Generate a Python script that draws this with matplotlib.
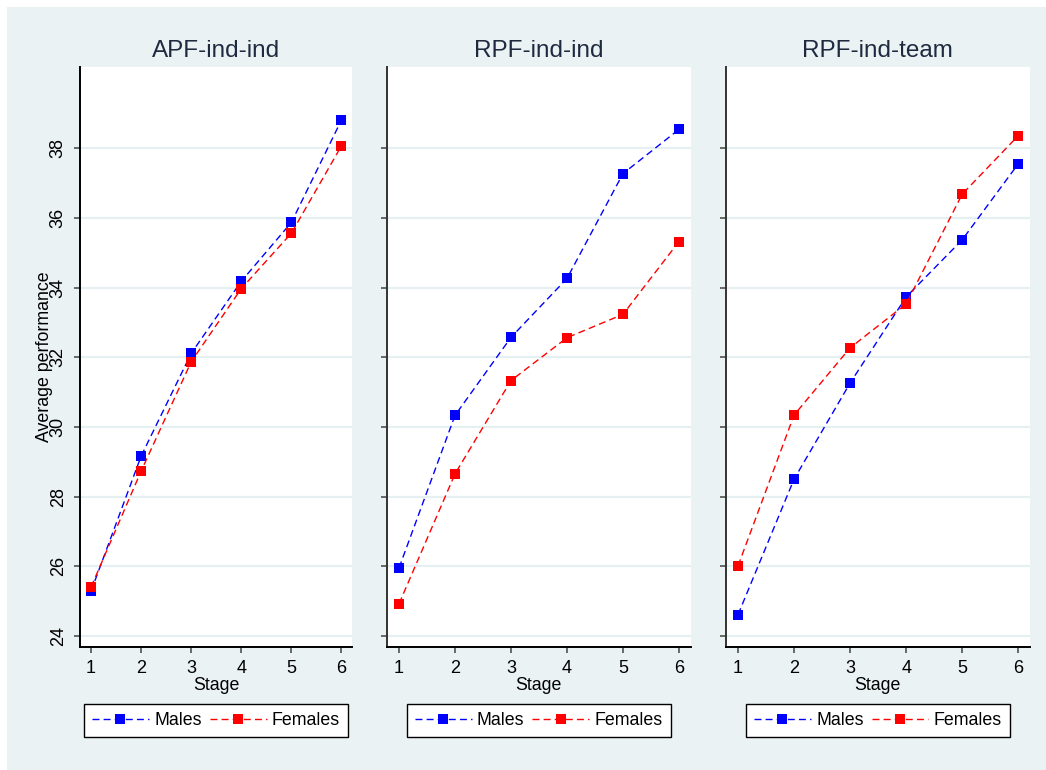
import matplotlib
matplotlib.use("Agg")
import matplotlib.pyplot as plt

stages = [1, 2, 3, 4, 5, 6]
titles = ["APF-ind-ind", "RPF-ind-ind", "RPF-ind-team"]
males_apf = [25.28, 29.16, 32.11, 34.18, 35.87, 38.81]
females_apf = [25.40, 28.73, 31.87, 33.97, 35.56, 38.07]
males_rpf_ind = [25.95, 30.33, 32.57, 34.26, 37.27, 38.54]
females_rpf_ind = [24.92, 28.65, 31.33, 32.56, 33.23, 35.32]
males_rpf_team = [24.61, 28.50, 31.26, 33.73, 35.37, 37.55]
females_rpf_team = [26.01, 30.34, 32.27, 33.53, 36.68, 38.36]
yticks = [24, 26, 28, 30, 32, 34, 36, 38]
legend_labels = ["Males", "Females"]
ylabel = "Average performance"
xlabel = "Stage"

males = [males_apf, males_rpf_ind, males_rpf_team]
females = [females_apf, females_rpf_ind, females_rpf_team]

plt.rcParams['font.family'] = ['Liberation Sans', 'DejaVu Sans']

W, H = 1046, 770
fig = plt.figure(figsize=(W / 100, H / 100), dpi=100)
fig.patch.set_facecolor('white')
bg = '#EAF2F3'
fig.patches.append(plt.Rectangle((7 / W, 0), 1, 1 - 7 / H, transform=fig.transFigure,
                                 facecolor=bg, edgecolor='none', zorder=-10))

panels = [(80, 352), (386.7, 690.7), (725.7, 1030)]
top_px, bot_px = 66.7, 646.7

for i, (x0, x1) in enumerate(panels):
    ax = fig.add_axes([x0 / W, 1 - bot_px / H, (x1 - x0) / W, (bot_px - top_px) / H])
    ax.set_facecolor('white')
    ax.set_xlim(0.78, 6.21)
    ax.set_ylim(23.69, 40.34)
    ax.set_yticks(yticks)
    ax.set_xticks(stages)
    ax.grid(axis='y', color='#E6EFF1', linewidth=1.6, zorder=0)
    ax.set_axisbelow(True)
    for s in ['top', 'right']:
        ax.spines[s].set_visible(False)
    ax.spines['left'].set_linewidth(1.4)
    ax.spines['bottom'].set_linewidth(1.4)
    ax.spines['left'].set_color('#333333' if i else 'black')
    ax.tick_params(axis='both', direction='out', length=4.5, width=1.1, color='#444444',
                   labelsize=13)
    ax.tick_params(axis='x', pad=5)
    if i == 0:
        ax.tick_params(axis='y', pad=5)
        for lab in ax.get_yticklabels():
            lab.set_rotation(90)
            lab.set_va('center')
        ax.set_ylabel(ylabel, fontsize=12.8)
        ax.yaxis.set_label_coords(-0.1, 0.5)
    else:
        ax.set_yticklabels([])
    ax.set_xlabel(xlabel, fontsize=12.8, labelpad=0)

    lm, = ax.plot(stages, males[i], color='#0000FF', linewidth=1.0, dashes=(5, 3),
                  marker='s', markersize=7.4, markeredgewidth=0, zorder=3)
    lf, = ax.plot(stages, females[i], color='#FF0000', linewidth=1.0, dashes=(5, 3),
                  marker='s', markersize=7.4, markeredgewidth=0, zorder=3)
    ax.set_title(titles[i], fontsize=17.5, color='#1E2A40', pad=7)

    cx = (x0 + x1) / 2 / W
    leg = ax.legend([lm, lf], legend_labels, loc='center', bbox_to_anchor=(cx, 1 - 720.7 / H),
                    bbox_transform=fig.transFigure, ncol=2, fontsize=12.8, frameon=True,
                    fancybox=False, handlelength=3.2, handletextpad=0.3, columnspacing=0.45,
                    borderpad=0.45, numpoints=1)
    fr = leg.get_frame()
    fr.set_edgecolor('black')
    fr.set_linewidth(1.0)
    fr.set_facecolor('white')
    fr.set_alpha(1)

fig.savefig('out.png', dpi=100, facecolor=fig.get_facecolor())
